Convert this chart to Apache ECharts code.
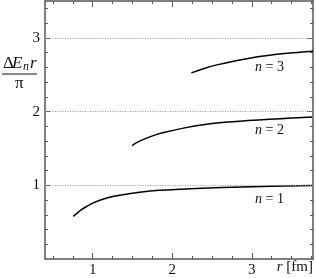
<!DOCTYPE html>
<html><head><meta charset="utf-8">
<script src="https://cdn.jsdelivr.net/npm/echarts@6/dist/echarts.min.js"></script>
<style>html,body{margin:0;padding:0;background:#fff}#c{width:316px;height:278px}</style>
</head><body><div id="c"></div>
<script>
// data: [r (fm), ΔE_n r / π]
const n1 = [[0.755,0.579],[0.8,0.618],[0.85,0.662],[0.923,0.712],[1.0,0.758],[1.09,0.797],[1.2,0.833],[1.34,0.864],[1.59,0.905],[1.84,0.932],[2.3,0.958],[2.76,0.973],[3.25,0.986],[3.76,0.996]];
const n2 = [[1.495,1.539],[1.57,1.59],[1.655,1.630],[1.78,1.68],[1.906,1.719],[2.157,1.779],[2.408,1.824],[2.66,1.855],[2.95,1.878],[3.22,1.895],[3.5,1.912],[3.76,1.928]];
const n3 = [[2.24,2.525],[2.4,2.585],[2.575,2.637],[2.8,2.69],[2.99,2.728],[3.2,2.76],[3.41,2.787],[3.6,2.805],[3.77,2.818]];
const xMajor = [1,2,3];
const xMinor = [0.5,0.75,1.25,1.5,1.75,2.25,2.5,2.75,3.25,3.5,3.75];
const yMajor = [1,2,3];
const yMinor = [0.2,0.4,0.6,0.8,1.2,1.4,1.6,1.8,2.2,2.4,2.6,2.8,3.2,3.4];
const gridLines = [1,2,3];

const serif = 'Liberation Serif';
const XMIN = 0.4, XMAX = 3.77, YMIN = 0, YMAX = 3.5;
const axisCol = '#555';
function xa(pos, vals, len, labels, line){
  return {type:'value', position:pos, min:XMIN, max:XMAX,
    axisLine:{show:line, onZero:false, lineStyle:{color:axisCol, width:1.5}},
    axisTick:{show:true, inside:true, length:len, customValues:vals, lineStyle:{color:axisCol, width:1}},
    axisLabel:{show:labels, customValues:vals, margin:4, color:'#111', fontFamily:serif, fontSize:15},
    splitLine:{show:false}};
}
function ya(pos, vals, len, labels, line){
  return {type:'value', position:pos, min:YMIN, max:YMAX,
    axisLine:{show:line, onZero:false, lineStyle:{color:axisCol, width:1.5}},
    axisTick:{show:true, inside:true, length:len, customValues:vals, lineStyle:{color:axisCol, width:1}},
    axisLabel:{show:labels, customValues:vals, margin:5, color:'#111', fontFamily:serif, fontSize:15},
    splitLine:{show:false}};
}
const chart = echarts.init(document.getElementById('c'));
const lineStyle = {color:'#000', width:1.5};
const nRich = {i:{fontStyle:'italic', fontFamily:serif, fontSize:14}};
chart.setOption({
  animation:false,
  grid:{left:45, right:3, top:1, bottom:19},
  xAxis:[xa('bottom', xMajor, 6, true, true), xa('bottom', xMinor, 3, false, false),
         xa('top', xMajor, 6, false, true), xa('top', xMinor, 3, false, false)],
  yAxis:[ya('left', yMajor, 6, true, true), ya('left', yMinor, 3, false, false),
         ya('right', yMajor, 6, false, true), ya('right', yMinor, 3, false, false)],
  series:[
    {type:'line', data:n1, smooth:0.4, showSymbol:false, lineStyle:lineStyle,
     markLine:{silent:true, symbol:'none', label:{show:false},
       lineStyle:{color:'#999', type:[1,1.5], width:1},
       data:gridLines.map(v=>({yAxis:v}))}},
    {type:'line', data:n2, smooth:0.4, showSymbol:false, lineStyle:lineStyle},
    {type:'line', data:n3, smooth:0.4, showSymbol:false, lineStyle:lineStyle}
  ],
  graphic:[
    {type:'text', left:255, top:60, style:{text:'{i|n} = 3', fill:'#111', font:'14px '+serif, rich:nRich}},
    {type:'text', left:255, top:123, style:{text:'{i|n} = 2', fill:'#111', font:'14px '+serif, rich:nRich}},
    {type:'text', left:255, top:192, style:{text:'{i|n} = 1', fill:'#111', font:'14px '+serif, rich:nRich}},
    {type:'text', right:3, top:260, style:{text:'{i|r} [fm]', fill:'#111', font:'15px '+serif, rich:{i:{fontStyle:'italic', fontFamily:serif, fontSize:15}}}},
    {type:'text', left:3, top:55, style:{text:'Δ', fill:'#111', font:'17px '+serif}},
    {type:'text', left:12, top:55, style:{text:'E', fill:'#111', font:'italic 17px '+serif}},
    {type:'text', left:23, top:61, style:{text:'n', fill:'#111', font:'italic 12px '+serif}},
    {type:'text', left:30, top:55, style:{text:'r', fill:'#111', font:'italic 17px '+serif}},
    {type:'line', shape:{x1:2, y1:74, x2:37, y2:74}, style:{stroke:'#111', lineWidth:1}},
    {type:'text', left:15, top:75, style:{text:'π', fill:'#111', font:'17px '+serif}}
  ]
});
</script></body></html>
